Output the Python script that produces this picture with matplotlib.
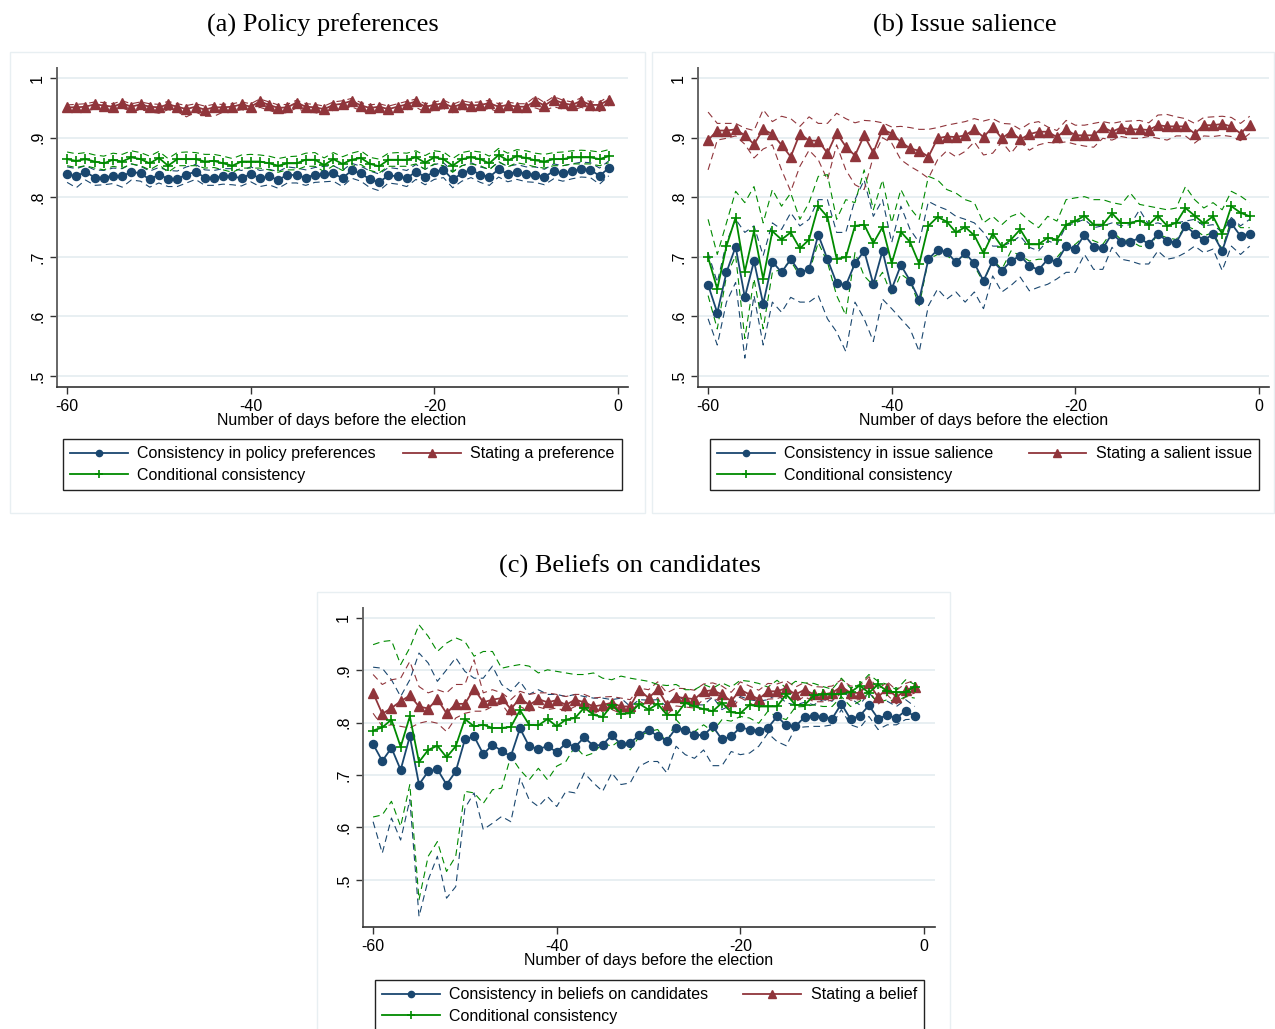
import matplotlib
matplotlib.use("Agg")
import matplotlib.pyplot as plt
from matplotlib.lines import Line2D
from matplotlib.patches import Rectangle

plt.rcParams['font.family'] = ['Liberation Sans', 'DejaVu Sans']

days = list(range(-60, 0))

# (a) policy preferences
a_blue = [.839, .835, .843, .833, .833, .836, .835, .843, .840, .830, .838, .831, .831, .838, .843, .833, .833, .835, .835, .832,
          .839, .832, .835, .829, .838, .837, .833, .838, .839, .840, .832, .845, .840, .830, .825, .837, .835, .832, .843, .834,
          .843, .846, .830, .840, .846, .838, .834, .847, .839, .843, .839, .838, .834, .844, .840, .844, .847, .846, .836, .849]
a_blue_hi = [.851, .848, .853, .846, .845, .849, .848, .856, .852, .844, .850, .845, .844, .851, .855, .846, .845, .848, .848, .845,
             .851, .845, .847, .843, .851, .849, .846, .850, .852, .853, .845, .857, .852, .844, .839, .850, .848, .845, .855, .847,
             .855, .858, .843, .853, .858, .851, .847, .859, .852, .855, .851, .851, .847, .856, .853, .856, .859, .858, .849, .861]
a_blue_lo = [.825, .816, .829, .820, .821, .823, .817, .829, .827, .817, .824, .818, .818, .824, .830, .820, .820, .822, .821, .819,
             .826, .818, .821, .815, .824, .824, .820, .825, .826, .827, .818, .832, .827, .816, .811, .824, .822, .818, .830, .821,
             .830, .833, .816, .827, .833, .825, .820, .834, .826, .830, .826, .825, .821, .831, .827, .831, .834, .833, .822, .836]
a_green = [.864, .861, .864, .860, .857, .863, .860, .867, .864, .857, .866, .853, .864, .864, .864, .860, .861, .857, .853, .860,
           .860, .860, .857, .853, .857, .857, .863, .863, .854, .864, .856, .863, .866, .856, .852, .863, .863, .863, .867, .858,
           .867, .864, .853, .864, .867, .864, .857, .871, .862, .869, .866, .862, .860, .864, .864, .867, .867, .867, .864, .869]
a_green_hi = [.876, .873, .875, .871, .869, .874, .872, .878, .875, .869, .877, .865, .875, .876, .875, .872, .872, .869, .865, .871,
              .872, .871, .869, .865, .868, .869, .874, .875, .866, .875, .868, .874, .878, .867, .864, .874, .875, .874, .878, .870,
              .878, .876, .865, .875, .878, .876, .869, .882, .874, .880, .878, .874, .872, .875, .876, .878, .879, .878, .876, .880]
a_green_lo = [.853, .850, .853, .849, .846, .852, .849, .856, .853, .846, .855, .842, .853, .853, .853, .849, .850, .846, .842, .849,
              .849, .849, .846, .842, .846, .846, .852, .852, .843, .853, .845, .852, .855, .845, .841, .852, .852, .852, .856, .847,
              .856, .853, .842, .853, .856, .853, .846, .860, .851, .858, .855, .851, .849, .853, .853, .856, .856, .856, .853, .858]
a_red = [.951, .951, .952, .956, .954, .952, .958, .952, .956, .952, .951, .956, .952, .948, .952, .947, .951, .951, .952, .956,
         .952, .961, .955, .950, .951, .959, .952, .951, .948, .955, .957, .962, .954, .950, .952, .948, .952, .956, .961, .952,
         .955, .958, .951, .957, .954, .955, .958, .952, .955, .952, .952, .962, .954, .964, .958, .955, .962, .955, .955, .964]
a_red_hi = [.955, .956, .957, .960, .959, .957, .962, .957, .960, .957, .956, .961, .957, .954, .957, .953, .956, .956, .957, .960,
            .957, .965, .960, .955, .956, .963, .957, .956, .953, .960, .962, .966, .959, .955, .957, .953, .957, .961, .965, .957,
            .960, .963, .956, .962, .959, .960, .963, .957, .960, .957, .957, .969, .959, .969, .963, .960, .967, .960, .960, .969]
a_red_lo = [.944, .944, .945, .948, .946, .944, .950, .944, .947, .944, .941, .947, .944, .935, .943, .936, .936, .943, .944, .947,
            .944, .951, .946, .941, .942, .950, .943, .942, .939, .946, .948, .952, .945, .941, .944, .939, .944, .947, .951, .943,
            .946, .949, .942, .948, .945, .946, .949, .943, .946, .943, .943, .950, .945, .952, .948, .946, .951, .946, .944, .954]

# (b) issue salience
b_blue = [.653, .606, .674, .717, .632, .693, .621, .692, .674, .696, .674, .679, .737, .696, .656, .652, .689, .710, .654, .710,
          .646, .686, .660, .628, .696, .712, .708, .691, .706, .689, .660, .693, .677, .693, .702, .685, .678, .696, .692, .718,
          .713, .737, .717, .714, .739, .725, .725, .732, .721, .738, .727, .724, .752, .739, .728, .738, .710, .756, .735, .739]
b_blue_hi = [.707, .657, .724, .763, .741, .752, .702, .757, .746, .774, .752, .763, .796, .796, .741, .741, .796, .829, .768, .796,
             .724, .785, .746, .724, .793, .785, .779, .768, .763, .757, .741, .718, .718, .724, .735, .716, .710, .727, .721, .752,
             .757, .763, .749, .752, .757, .752, .754, .779, .754, .757, .752, .757, .760, .763, .752, .754, .741, .766, .752, .763]
b_blue_lo = [.596, .552, .624, .657, .530, .635, .552, .624, .607, .632, .624, .624, .635, .596, .574, .541, .624, .596, .558, .629,
             .613, .596, .579, .541, .618, .646, .629, .641, .624, .641, .613, .668, .641, .652, .666, .643, .649, .654, .663, .674,
             .674, .704, .679, .679, .716, .696, .693, .688, .688, .710, .696, .699, .707, .718, .707, .713, .677, .718, .704, .718]
b_green = [.699, .646, .718, .766, .675, .743, .663, .743, .729, .741, .714, .729, .785, .767, .697, .699, .752, .754, .723, .750,
           .689, .742, .725, .688, .752, .767, .759, .741, .750, .736, .706, .739, .717, .729, .746, .721, .721, .732, .729, .754,
           .760, .769, .754, .754, .773, .757, .757, .761, .754, .769, .752, .757, .782, .769, .756, .768, .738, .785, .774, .768]
b_green_hi = [.763, .704, .757, .810, .791, .818, .757, .813, .785, .807, .763, .791, .835, .838, .763, .796, .791, .846, .779, .829,
              .757, .813, .782, .763, .835, .829, .813, .807, .796, .791, .757, .768, .754, .768, .774, .760, .749, .768, .760, .796,
              .799, .801, .796, .796, .791, .788, .807, .788, .785, .782, .779, .782, .818, .796, .782, .791, .779, .810, .802, .791]
b_green_lo = [.635, .579, .668, .702, .563, .663, .579, .674, .679, .693, .668, .674, .724, .691, .635, .602, .707, .668, .652, .674,
              .635, .671, .660, .618, .696, .704, .702, .691, .702, .685, .657, .696, .679, .710, .702, .693, .696, .696, .699, .718,
              .721, .735, .727, .721, .743, .729, .727, .718, .716, .738, .732, .729, .752, .746, .735, .741, .713, .763, .749, .749]
b_red = [.896, .912, .912, .914, .904, .889, .914, .906, .888, .868, .907, .895, .895, .874, .908, .885, .870, .904, .875, .914,
         .907, .893, .882, .878, .868, .899, .902, .901, .904, .914, .901, .918, .899, .910, .897, .906, .910, .910, .901, .914,
         .904, .904, .904, .918, .910, .917, .914, .914, .913, .921, .919, .919, .919, .907, .921, .921, .923, .919, .907, .922]
b_red_hi = [.943, .924, .924, .924, .916, .912, .947, .927, .936, .932, .919, .935, .924, .924, .941, .932, .925, .929, .928, .925,
            .918, .919, .917, .914, .914, .917, .921, .924, .927, .932, .928, .932, .924, .923, .914, .924, .927, .918, .912, .929,
            .921, .921, .924, .927, .924, .927, .928, .929, .925, .938, .939, .935, .932, .924, .934, .935, .936, .934, .924, .936]
b_red_lo = [.846, .896, .899, .903, .889, .866, .881, .888, .846, .810, .852, .879, .863, .829, .888, .846, .821, .813, .868, .900,
            .891, .863, .852, .843, .832, .863, .878, .868, .877, .893, .871, .874, .893, .874, .893, .879, .888, .892, .891, .893,
            .889, .886, .884, .899, .896, .902, .899, .899, .902, .899, .896, .903, .903, .891, .903, .902, .904, .902, .895, .907]

# (c) beliefs on candidates
c_blue = [.759, .727, .752, .710, .774, .682, .707, .711, .682, .707, .768, .774, .740, .758, .746, .736, .789, .755, .750, .755,
          .744, .761, .754, .772, .756, .758, .776, .759, .761, .777, .787, .774, .766, .790, .787, .777, .776, .793, .768, .774,
          .791, .787, .785, .790, .812, .795, .793, .811, .813, .811, .808, .836, .807, .813, .833, .808, .814, .809, .823, .812]
c_blue_hi = [.906, .904, .882, .850, .882, .933, .914, .879, .901, .924, .898, .885, .885, .908, .873, .860, .879, .854, .863, .854,
             .854, .850, .854, .850, .847, .847, .844, .847, .831, .844, .843, .844, .831, .854, .841, .834, .834, .849, .825, .834,
             .850, .844, .841, .844, .854, .838, .834, .839, .834, .844, .841, .863, .847, .834, .857, .838, .841, .831, .844, .831]
c_blue_lo = [.611, .551, .618, .576, .653, .430, .500, .545, .465, .487, .637, .666, .596, .608, .621, .611, .694, .653, .640, .659,
             .640, .669, .666, .704, .685, .669, .704, .682, .685, .717, .726, .726, .704, .755, .739, .732, .748, .718, .718, .745,
             .739, .742, .755, .780, .764, .756, .790, .792, .793, .793, .796, .825, .796, .790, .812, .787, .796, .796, .806, .807]
c_green = [.785, .791, .806, .754, .812, .725, .748, .756, .734, .755, .807, .793, .796, .790, .790, .792, .824, .796, .795, .807,
           .793, .806, .809, .829, .815, .811, .834, .817, .818, .836, .825, .836, .815, .815, .838, .831, .826, .822, .838, .820,
           .818, .834, .831, .831, .831, .854, .834, .834, .852, .854, .854, .855, .858, .871, .857, .873, .860, .858, .858, .869]
c_green_hi = [.949, .955, .957, .911, .943, .987, .965, .936, .952, .962, .955, .927, .936, .936, .904, .908, .911, .908, .895, .901,
              .898, .895, .892, .892, .895, .885, .882, .889, .885, .882, .879, .873, .871, .873, .863, .863, .873, .866, .876, .868,
              .881, .879, .875, .868, .881, .866, .879, .876, .875, .869, .864, .885, .866, .873, .892, .879, .873, .863, .882, .873]
c_green_lo = [.620, .624, .650, .602, .682, .462, .545, .573, .516, .545, .669, .666, .646, .672, .675, .736, .710, .691, .713, .691,
              .717, .726, .755, .736, .742, .761, .755, .768, .748, .774, .783, .787, .761, .806, .787, .783, .796, .783, .806, .803,
              .812, .809, .799, .822, .811, .806, .830, .831, .834, .831, .831, .850, .831, .841, .857, .838, .844, .841, .850, .847]
c_red = [.857, .817, .828, .841, .852, .831, .827, .845, .818, .836, .836, .865, .839, .844, .847, .826, .847, .834, .845, .839,
         .843, .834, .844, .839, .831, .834, .838, .831, .831, .863, .847, .864, .834, .849, .847, .845, .860, .862, .854, .841,
         .863, .854, .845, .860, .860, .866, .854, .863, .854, .854, .857, .869, .857, .857, .875, .849, .866, .849, .862, .869]
c_red_hi = [.892, .873, .882, .885, .917, .869, .857, .863, .857, .873, .873, .920, .857, .863, .857, .844, .860, .854, .857, .857,
            .854, .850, .854, .854, .847, .849, .850, .847, .844, .866, .863, .878, .857, .866, .865, .862, .874, .876, .870, .858,
            .878, .870, .862, .875, .874, .880, .868, .877, .869, .868, .870, .882, .870, .870, .888, .864, .878, .862, .875, .881]
c_red_lo = [.818, .793, .796, .793, .790, .799, .803, .799, .783, .809, .818, .822, .822, .831, .836, .812, .831, .822, .830, .825,
            .828, .822, .831, .825, .818, .822, .825, .818, .818, .841, .831, .848, .815, .832, .830, .828, .845, .848, .838, .825,
            .848, .838, .828, .845, .846, .852, .840, .850, .840, .840, .843, .856, .843, .844, .862, .835, .853, .836, .849, .857]

titles = ["(a) Policy preferences", "(b) Issue salience", "(c) Beliefs on candidates"]
consist_labels = ["Consistency in policy preferences", "Consistency in issue salience", "Consistency in beliefs on candidates"]
stating_labels = ["Stating a preference", "Stating a salient issue", "Stating a belief"]
cond_label = "Conditional consistency"
xlab = "Number of days before the election"

BLUE = "#1a476f"
RED = "#90353b"
GREEN = "#008a00"
FS = 11.5

W, H = 1275.0, 1029.0


def fx(px):
    return px / W


def fy(py):
    return 1 - py / H


def draw_panel(box, xlim, ylim, series, title, title_xy, xlab_xy, leg_box, labels):
    left, top, right, bottom = box
    ax = fig.add_axes([fx(left), fy(bottom), fx(right - left), (bottom - top) / H])
    blue, blue_lo, blue_hi, red, red_lo, red_hi, green, green_lo, green_hi = series
    dash = (0, (6, 4))
    for lo, hi, col in [(blue_lo, blue_hi, BLUE), (red_lo, red_hi, RED), (green_lo, green_hi, GREEN)]:
        ax.plot(days, lo, color=col, lw=0.8, linestyle=dash, zorder=2)
        ax.plot(days, hi, color=col, lw=0.8, linestyle=dash, zorder=2)
    ax.plot(days, blue, color=BLUE, lw=1.3, marker='o', ms=5.8, zorder=3)
    ax.plot(days, red, color=RED, lw=1.3, marker='^', ms=6.8, zorder=3)
    ax.plot(days, green, color=GREEN, lw=1.3, marker='+', ms=7, mew=1.2, zorder=3)

    ax.set_xlim(*xlim)
    ax.set_ylim(*ylim)
    ax.set_xticks([-60, -40, -20, 0])
    ax.set_xticklabels(["-60", "-40", "-20", "0"])
    ax.set_yticks([.5, .6, .7, .8, .9, 1])
    ax.set_yticklabels([".5", ".6", ".7", ".8", ".9", "1"], rotation=90, va='center')
    ax.tick_params(labelsize=FS, length=5, width=1, color='#333')
    ax.yaxis.grid(True, color='#e6eef1', lw=1.3)
    ax.set_axisbelow(True)
    for s in ['top', 'right']:
        ax.spines[s].set_visible(False)
    ax.spines['left'].set_color('#666')
    ax.spines['bottom'].set_color('#333')
    ax.spines['left'].set_linewidth(1.4)
    ax.spines['bottom'].set_linewidth(1.2)

    fig.text(fx(title_xy[0]), fy(title_xy[1]), title, ha='center', va='center',
             fontsize=19, family=['Liberation Serif', 'DejaVu Serif'])
    fig.text(fx(xlab_xy[0]), fy(xlab_xy[1]), xlab, ha='center', va='center', fontsize=FS)

    lx0, ltop, lx1 = leg_box
    handles = [Line2D([], [], color=BLUE, lw=1.3, marker='o', ms=4.5),
               Line2D([], [], color=GREEN, lw=1.3, marker='+', ms=6, mew=1.2),
               Line2D([], [], color=RED, lw=1.3, marker='^', ms=5.5)]
    leg = fig.legend(handles, [labels[0], cond_label, labels[1]], ncol=2, mode='expand',
                     loc='upper left', bbox_to_anchor=(fx(lx0), fy(ltop), fx(lx1 - lx0), 0.0),
                     fontsize=FS, handlelength=3.6, handletextpad=0.6, labelspacing=0.42,
                     borderpad=0.45, borderaxespad=0, fancybox=False, framealpha=1,
                     edgecolor='#222')
    leg.get_frame().set_linewidth(1.0)
    return ax


fig = plt.figure(figsize=(12.75, 10.29), dpi=100)

# faint outer boxes of the three sub-graphs
for x0, y0, x1, y1 in [(10, 52, 645, 513), (652, 52, 1274, 513), (317, 592, 950, 1040)]:
    fig.patches.append(Rectangle((fx(x0), fy(y1)), fx(x1 - x0), (y1 - y0) / H, transform=fig.transFigure,
                                 fill=False, edgecolor='#e8eff2', lw=1.0))

draw_panel((57, 68, 628, 387), (-61.1, 1.1), (0.4815, 1.017),
           (a_blue, a_blue_lo, a_blue_hi, a_red, a_red_lo, a_red_hi, a_green, a_green_lo, a_green_hi),
           titles[0], (323, 25), (342, 421), (63, 439, 622), (consist_labels[0], stating_labels[0]))
draw_panel((698, 68, 1269, 387), (-61.1, 1.1), (0.4815, 1.017),
           (b_blue, b_blue_lo, b_blue_hi, b_red, b_red_lo, b_red_hi, b_green, b_green_lo, b_green_hi),
           titles[1], (965, 25), (984, 421), (710, 439, 1259), (consist_labels[1], stating_labels[1]))
draw_panel((363, 608, 935, 927), (-61.1, 1.2), (0.410, 1.019),
           (c_blue, c_blue_lo, c_blue_hi, c_red, c_red_lo, c_red_hi, c_green, c_green_lo, c_green_hi),
           titles[2], (630, 566), (649, 961), (375, 980, 924), (consist_labels[2], stating_labels[2]))

fig.savefig("out.png", dpi=100)
